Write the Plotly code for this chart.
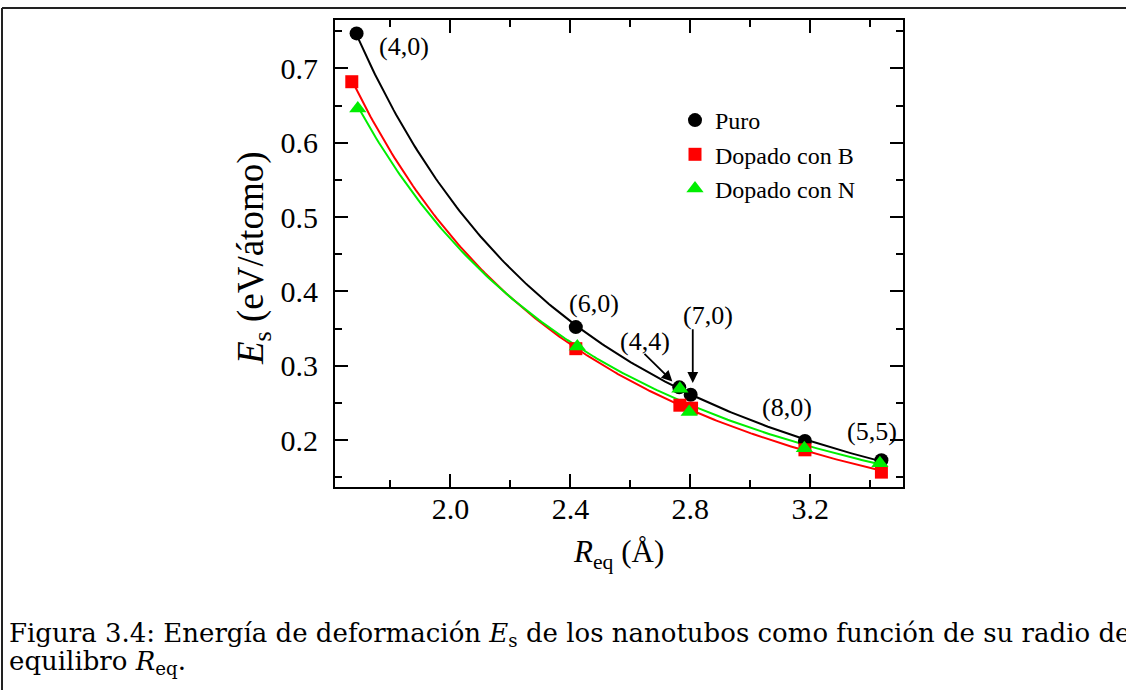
import numpy as np
import plotly.graph_objects as go

# Equilibrium radius (Å) and strain energy (eV/atom) for each nanotube
tubes = ["(4,0)", "(6,0)", "(4,4)", "(7,0)", "(8,0)", "(5,5)"]

r_puro = [1.687, 2.418, 2.763, 2.801, 3.182, 3.437]
e_puro = [0.747, 0.352, 0.271, 0.261, 0.199, 0.173]

r_dop_b = [1.671, 2.418, 2.765, 2.804, 3.182, 3.437]
e_dop_b = [0.682, 0.323, 0.247, 0.243, 0.187, 0.157]

r_dop_n = [1.691, 2.423, 2.765, 2.796, 3.180, 3.432]
e_dop_n = [0.646, 0.326, 0.269, 0.238, 0.189, 0.169]

x_ticks = [2.0, 2.4, 2.8, 3.2]
y_ticks = [0.2, 0.3, 0.4, 0.5, 0.6, 0.7]

SERIF = "Liberation Serif"
CAPTION_FONT = "DejaVu Serif"

series = [
    ("Puro", r_puro, e_puro, "#000000", "circle", 14),
    ("Dopado con B", r_dop_b, e_dop_b, "#ff0000", "square", 13),
    ("Dopado con N", r_dop_n, e_dop_n, "#00ee00", "triangle-up", 15),
]


def power_fit(r, e, n=200):
    """Least-squares fit E = a * R^b, sampled over the data range."""
    lr, le = np.log(r), np.log(e)
    b, la = np.polyfit(lr, le, 1)
    rr = np.linspace(min(r), max(r), n)
    return rr, np.exp(la) * rr ** b


fig = go.Figure()

# fitted curves (not in legend)
for name, r, e, col, sym, sz in series:
    rr, ee = power_fit(np.array(r), np.array(e))
    fig.add_trace(go.Scatter(x=rr, y=ee, mode="lines", showlegend=False,
                             line=dict(color=col, width=2), hoverinfo="skip"))

# data points
for name, r, e, col, sym, sz in series:
    fig.add_trace(go.Scatter(x=r, y=e, mode="markers", name=name,
                             marker=dict(symbol=sym, size=sz, color=col,
                                         line=dict(width=0))))

axis_common = dict(
    showline=True, linecolor="black", linewidth=2, mirror="allticks",
    ticks="inside", ticklen=13, tickwidth=2, tickcolor="black",
    showgrid=False, zeroline=False,
    tickfont=dict(family=SERIF, size=30, color="black"),
)

fig.update_xaxes(range=[1.615, 3.509], tickvals=x_ticks,
                 ticktext=[f"{v:.1f}" for v in x_ticks],
                 minor=dict(dtick=0.2, tick0=1.8, ticks="inside", ticklen=7,
                            tickwidth=2, tickcolor="black"),
                 ticklabelstandoff=-6, **axis_common)
fig.update_yaxes(range=[0.137, 0.765], tickvals=y_ticks,
                 ticktext=[f"{v:.1f}" for v in y_ticks],
                 minor=dict(dtick=0.05, tick0=0.15, ticks="inside", ticklen=7,
                            tickwidth=2, tickcolor="black"),
                 ticklabelstandoff=9, **axis_common)

# tube labels
label_pos = {
    "(4,0)": (1.845, 0.730),
    "(6,0)": (2.478, 0.384),
    "(4,4)": (2.648, 0.333),
    "(7,0)": (2.858, 0.367),
    "(8,0)": (3.122, 0.244),
    "(5,5)": (3.405, 0.211),
}
for t in tubes:
    x, y = label_pos[t]
    fig.add_annotation(x=x, y=y, text=t, showarrow=False,
                       font=dict(family=SERIF, size=26, color="black"))

# arrows pointing to the (4,4) and (7,0) points
for tip, tail in [((2.740, 0.279), (2.642, 0.318)),
                  ((2.808, 0.277), (2.808, 0.351))]:
    fig.add_annotation(x=tip[0], y=tip[1], ax=tail[0], ay=tail[1],
                       axref="x", ayref="y", text="", showarrow=True,
                       arrowhead=2, arrowsize=1.2, arrowwidth=1.8,
                       arrowcolor="black")


def px_x(px):
    return (px - 335) / 568


def px_y(py):
    return (487 - py) / 467


# axis titles
fig.add_annotation(xref="paper", yref="paper", x=px_x(618), y=px_y(554),
                   xanchor="center", yanchor="middle", showarrow=False,
                   text="<i>R</i><sub>eq</sub> (Å)",
                   font=dict(family=SERIF, size=31, color="black"))
fig.add_annotation(xref="paper", yref="paper", x=px_x(253), y=px_y(259),
                   xanchor="center", yanchor="middle", showarrow=False,
                   textangle=-90,
                   text="<i>E</i><sub>s</sub> (eV/átomo)",
                   font=dict(family=SERIF, size=37, color="black"))

# caption, one annotation per line
caption_lines = [
    ("Figura 3.4: Energía de deformación <i>E</i><sub>s</sub> "
     "de los nanotubos como función de su radio de", 634),
    ("equilibro <i>R</i><sub>eq</sub>.", 662),
]
for txt, py in caption_lines:
    fig.add_annotation(xref="paper", yref="paper", x=px_x(7), y=px_y(py),
                       xanchor="left", yanchor="middle", align="left",
                       showarrow=False, text=txt,
                       font=dict(family=CAPTION_FONT, size=26, color="black"))

# frame lines around the figure
fig.add_shape(type="line", xref="paper", yref="paper",
              x0=px_x(2), x1=px_x(1130), y0=px_y(8), y1=px_y(8),
              line=dict(color="#222222", width=2))
fig.add_shape(type="line", xref="paper", yref="paper",
              x0=px_x(2), x1=px_x(2), y0=px_y(8), y1=px_y(700),
              line=dict(color="#222222", width=2))

fig.update_layout(
    width=1126, height=690,
    margin=dict(l=335, r=223, t=20, b=203),
    paper_bgcolor="white", plot_bgcolor="white",
    showlegend=True,
    legend=dict(x=px_x(675), y=px_y(98),
                xanchor="left", yanchor="top",
                bgcolor="rgba(0,0,0,0)", borderwidth=0,
                font=dict(family=SERIF, size=24, color="black"),
                itemwidth=30, tracegroupgap=0),
)

fig.write_html("out.html")
